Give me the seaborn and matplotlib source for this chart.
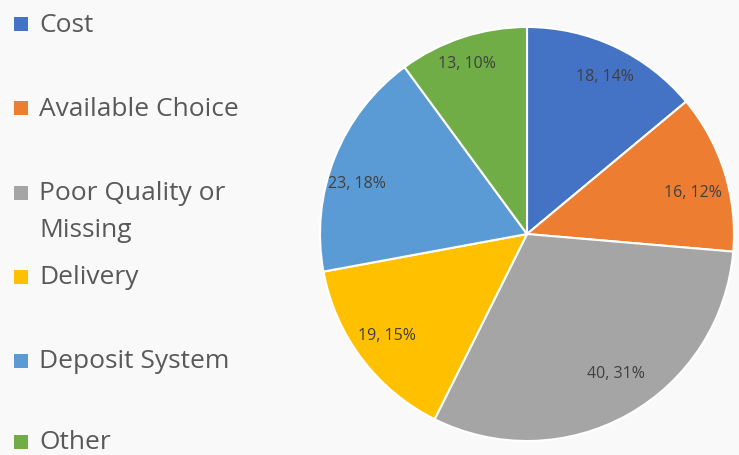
import matplotlib
matplotlib.use("Agg")
import matplotlib.pyplot as plt
from matplotlib.patches import Rectangle
from matplotlib.transforms import offset_copy
import seaborn as sns

# Survey responses: reasons cited, with counts
categories = ["Cost", "Available Choice", "Poor Quality or\nMissing", "Delivery",
              "Deposit System", "Other"]
counts = [18, 16, 40, 19, 23, 13]
colors = ["#4472C4", "#ED7D31", "#A5A5A5", "#FFC000", "#5B9BD5", "#70AD47"]

sns.set_theme(style="white")
plt.rcParams["font.family"] = ["Open Sans", "DejaVu Sans"]

W, H, DPI = 739, 456, 100
bg = "#f9f9f9"
fig = plt.figure(figsize=(W / DPI, H / DPI), dpi=DPI, facecolor=bg)

# Pie area (pixel geometry of the circle)
cx, cy, r = 527, 235, 207
ax = fig.add_axes([(cx - r) / W, (H - cy - r) / H, 2 * r / W, 2 * r / H])
ax.set_facecolor(bg)

palette = sns.color_palette(colors)
total = sum(counts)


def fmt(pct):
    v = int(round(pct * total / 100.0))
    return f"{v}, {pct:.0f}%"


wedges, texts, autotexts = ax.pie(
    counts, colors=palette, startangle=90, counterclock=False,
    autopct=fmt, pctdistance=0.85,
    wedgeprops=dict(edgecolor="white", linewidth=1.5),
    textprops=dict(color="#404040", fontsize=11.5),
)
ax.set_xlim(-1, 1)
ax.set_ylim(-1, 1)
ax.set_aspect("equal")
ax.axis("off")

# small best-fit nudges of the in-slice labels (pixels, x right / y up)
nudges = [(3, -1), (-2, -11), (3, 14), (1, 5), (-6, -14), (-5, 4)]
for t, (dx, dy) in zip(autotexts, nudges):
    t.set_transform(offset_copy(t.get_transform(), fig=fig, x=dx, y=dy,
                                units="dots"))

# Legend down the left side
row_y = [25, 109, 194, 278, 362, 443]
line_gap = 37
sq = 14
for label, col, y in zip(categories, palette, row_y):
    fig.patches.append(Rectangle((14 / W, (H - y - sq / 2) / H), sq / W, sq / H,
                                 transform=fig.transFigure, facecolor=col,
                                 edgecolor="none", figure=fig))
    for i, line in enumerate(label.split("\n")):
        fig.text(39 / W, (H - y - i * line_gap) / H, line, fontsize=19,
                 color="#595959", ha="left", va="center")

fig.savefig("out.png", dpi=DPI, facecolor=bg)
